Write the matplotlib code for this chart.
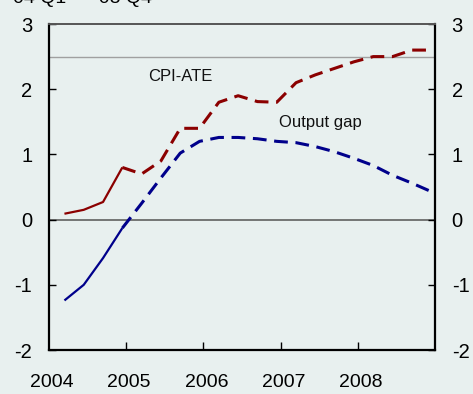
import matplotlib
matplotlib.use("Agg")
import matplotlib.pyplot as plt
import matplotlib.transforms as mtransforms
import numpy as np

plt.rcParams['font.family'] = ['Liberation Sans', 'DejaVu Sans']

# Quarterly observations 2004 Q1 - 2008 Q4
quarters = [2004.2 + 0.25 * k for k in range(20)]
cpi_ate = [0.09, 0.15, 0.27, 0.80, 0.70, 0.90, 1.40, 1.40, 1.80, 1.90,
           1.81, 1.80, 2.10, 2.22, 2.32, 2.42, 2.50, 2.50, 2.60, 2.60]
output_gap = [-1.24, -1.00, -0.59, -0.13, 0.25, 0.64, 1.02, 1.20, 1.26, 1.26,
              1.24, 1.20, 1.18, 1.12, 1.04, 0.94, 0.83, 0.68, 0.56, 0.43]
n_hist = 4  # first observations drawn solid (history)

year_ticks = [2005, 2006, 2007, 2008]
year_labels = ['2004', '2005', '2006', '2007', '2008']
year_label_pos = [2004, 2005, 2006, 2007, 2008]
y_ticks = [-2, -1, 0, 1, 2, 3]
target = 2.5

bg = '#e8f0ef'
red = '#8b0000'
blue = '#00008b'

fig = plt.figure(figsize=(4.73, 3.94), dpi=100, facecolor=bg)
ax = fig.add_axes([49/473, 1-350/394, (435-49)/473, (350-24)/394])
ax.set_facecolor(bg)
ax.set_xlim(2004, 2009)
ax.set_ylim(-2, 3)

ax.axhline(target, color='#a0a0a0', lw=1.0, zorder=1)
ax.axhline(0, color='#606060', lw=1.2, zorder=1)

x = np.array(quarters)
c = np.array(cpi_ate)
g = np.array(output_gap)
ax.plot(x[:n_hist], c[:n_hist], color=red, lw=1.6, solid_capstyle='butt', zorder=3)
ax.plot(x[n_hist-1:], c[n_hist-1:], color=red, lw=2.2, dashes=(4.5, 2.5), zorder=3)
ax.plot(x[:n_hist], g[:n_hist], color=blue, lw=1.6, solid_capstyle='butt', zorder=3)
ax.plot(x[n_hist-1:], g[n_hist-1:], color=blue, lw=2.2, dashes=(4.5, 2.5), zorder=3)

ax.text(2005.28, 2.12, 'CPI-ATE', fontsize=12, color='#111111', va='baseline')
ax.text(2006.98, 1.42, 'Output gap', fontsize=12, color='#111111', va='baseline')

# spines
for s in ['left', 'right', 'bottom']:
    ax.spines[s].set_color('black')
    ax.spines[s].set_linewidth(1.6)
ax.spines['top'].set_color('#555555')
ax.spines['top'].set_linewidth(1.4)

# y axis (both sides)
ax.set_yticks(y_ticks)
ax.set_yticklabels([str(v) for v in y_ticks])
ax.tick_params(axis='y', direction='in', length=5, width=1, pad=12,
               labelsize=14.5, left=True, right=True, labelleft=True, labelright=True)

# x axis
ax.set_xticks(year_ticks)
ax.set_xticklabels([])
ax.tick_params(axis='x', direction='in', length=6, width=1)
offset = mtransforms.ScaledTranslation(3/100, 0, fig.dpi_scale_trans)
for yr, lab in zip(year_label_pos, year_labels):
    ax.text(yr, -0.075, lab, transform=ax.get_xaxis_transform() + offset,
            ha='center', va='top', fontsize=14)

# partially visible header text (cut off at the top edge, as in the reference)
fig.text(13/473, 1-3/394, '04 Q1  \u2013  08 Q4', fontsize=14, va='baseline', ha='left')

fig.savefig('out.png', dpi=100, facecolor=bg)
